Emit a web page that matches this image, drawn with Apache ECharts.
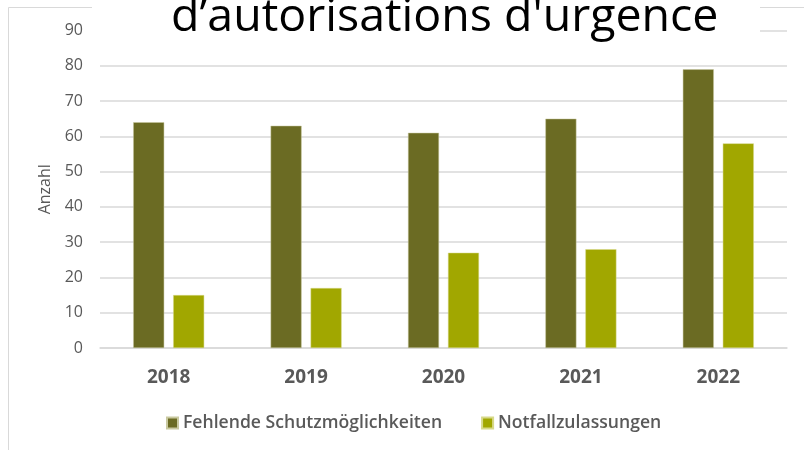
<!DOCTYPE html>
<html><head><meta charset="utf-8">
<script src="https://cdn.jsdelivr.net/npm/echarts@6/dist/echarts.min.js"></script>
<style>html,body{margin:0;padding:0;background:#fff}#c{width:804px;height:450px}</style>
</head><body><div id="c"></div>
<script>
const titleText = "d’autorisations d'urgence";
const categories = ["2018", "2019", "2020", "2021", "2022"];
const seriesNames = ["Fehlende Schutzmöglichkeiten", "Notfallzulassungen"];
const fehlende = [64, 63, 61, 65, 79];
const notfall = [15, 17, 27, 28, 58];
const yAxisName = "Anzahl";
const FONT = "Open Sans";
const chart = echarts.init(document.getElementById('c'));
chart.setOption({
  animation: false,
  backgroundColor: '#fff',
  graphic: [{
    type: 'rect', z: -1, silent: true,
    shape: { x: 8.5, y: 7.5, width: 900, height: 500 },
    style: { fill: 'none', stroke: '#d9d9d9', lineWidth: 1 }
  }, {
    type: 'rect', z: 5, silent: true,
    shape: { x: 92, y: 0, width: 668, height: 44 },
    style: { fill: '#fff' }
  }],
  title: {
    text: titleText,
    left: 171, top: -5,
    padding: 0,
    textStyle: { fontFamily: FONT, fontSize: 46.5, fontWeight: 'normal', color: '#000', lineHeight: 46 }
  },
  grid: { left: 100, right: 17, top: 30.5, bottom: 102, containLabel: false },
  legend: {
    top: 414, left: 166, padding: 0,
    itemWidth: 11, itemHeight: 11, itemGap: 39,
    icon: 'rect',
    textStyle: { fontFamily: FONT, fontSize: 17.6, fontWeight: 600, color: '#595959' },
    data: seriesNames
  },
  xAxis: {
    type: 'category', data: categories,
    axisLine: { lineStyle: { color: '#d9d9d9', width: 1.5 } },
    axisTick: { show: false },
    axisLabel: { fontFamily: FONT, fontSize: 19, fontWeight: 'bold', color: '#595959', margin: 20 }
  },
  yAxis: {
    type: 'value', min: 0, max: 90, interval: 10,
    name: yAxisName, nameLocation: 'middle', nameGap: 47, nameRotate: 90,
    nameMoveOverlap: false,
    nameTextStyle: { fontFamily: FONT, fontSize: 16, color: '#595959' },
    axisLine: { show: false }, axisTick: { show: false },
    axisLabel: { fontFamily: FONT, fontSize: 16, color: '#595959', margin: 17 },
    splitLine: { lineStyle: { color: '#d9d9d9', width: 1.5 } }
  },
  series: [
    { name: seriesNames[0], type: 'bar', data: fehlende, barWidth: 31, barGap: '29%',
      itemStyle: { color: '#6b6b23', borderColor: '#c9c9a0', borderWidth: 0.5 } },
    { name: seriesNames[1], type: 'bar', data: notfall, barWidth: 31, barGap: '29%',
      itemStyle: { color: '#a1a700', borderColor: '#d7d98a', borderWidth: 0.5 } }
  ]
});
</script></body></html>
